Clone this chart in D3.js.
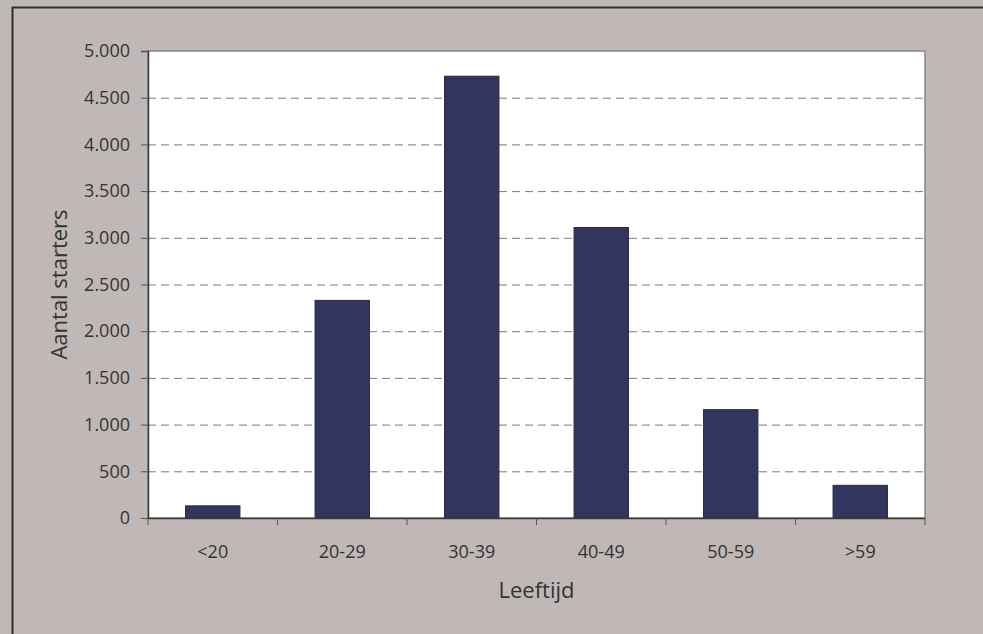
<!DOCTYPE html>
<html>
<head>
<meta charset="utf-8">
<script src="https://cdn.jsdelivr.net/npm/d3@7"></script>
<style>
  html, body { margin: 0; padding: 0; background: #c0b8b6; }
  svg { display: block; }
</style>
</head>
<body>
<div id="chart"></div>
<script>
const categories = ["<20", "20-29", "30-39", "40-49", "50-59", ">59"];
const starters = [130, 2330, 4730, 3110, 1160, 350];
const yTicks = [0, 500, 1000, 1500, 2000, 2500, 3000, 3500, 4000, 4500, 5000];

const width = 983;
const height = 634;
const margin = { top: 51, right: 58, bottom: 116, left: 148 };
const innerW = width - margin.left - margin.right;
const innerH = height - margin.top - margin.bottom;

const nl = d3.formatLocale({ decimal: ",", thousands: ".", grouping: [3], currency: ["", ""] });
const fmt = nl.format(",d");

const svg = d3
  .select("#chart")
  .append("svg")
  .attr("width", width)
  .attr("height", height);

// outer frame
svg
  .append("rect")
  .attr("x", 12.5)
  .attr("y", 7.5)
  .attr("width", width)
  .attr("height", height)
  .attr("fill", "#c0b8b6")
  .attr("stroke", "#2e2e2e")
  .attr("stroke-width", 2);

const g = svg
  .append("g")
  .attr("transform", `translate(${margin.left}, ${margin.top})`);

const x = d3.scaleBand().domain(categories).range([0, innerW]).paddingInner(0.58).paddingOuter(0.29);
const y = d3.scaleLinear().domain([0, 5000]).range([innerH, 0]);

g.append("rect")
  .attr("width", innerW)
  .attr("height", innerH)
  .attr("fill", "#ffffff")
  .attr("stroke", "#8c8482")
  .attr("stroke-width", 1.5);

// dashed gridlines
g.selectAll(".grid")
  .data(yTicks.filter((d) => d > 0 && d < 5000))
  .enter()
  .append("line")
  .attr("class", "grid")
  .attr("x1", 0)
  .attr("x2", innerW)
  .attr("y1", (d) => y(d) + 0.5)
  .attr("y2", (d) => y(d) + 0.5)
  .attr("stroke", "#7a7a7a")
  .attr("stroke-width", 1)
  .attr("stroke-dasharray", "8,5");

// bars
g.selectAll(".bar")
  .data(starters)
  .enter()
  .append("rect")
  .attr("class", "bar")
  .attr("x", (d, i) => x(categories[i]))
  .attr("y", (d) => y(d))
  .attr("width", x.bandwidth())
  .attr("height", (d) => innerH - y(d))
  .attr("fill", "#333561")
  .attr("stroke", "#2a2a3a")
  .attr("stroke-width", 1);

// y axis
const yAxis = g
  .append("g")
  .call(d3.axisLeft(y).tickValues(yTicks).tickFormat(fmt).tickSize(7).tickPadding(11));

// x axis with ticks at category boundaries
const step = innerW / categories.length;
const xAxis = g
  .append("g")
  .attr("transform", `translate(0, ${innerH})`)
  .call(d3.axisBottom(x).tickSize(0).tickPadding(27));

xAxis
  .selectAll(".bound")
  .data(d3.range(categories.length + 1))
  .enter()
  .append("line")
  .attr("class", "bound")
  .attr("x1", (i) => i * step)
  .attr("x2", (i) => i * step)
  .attr("y1", 0)
  .attr("y2", 7)
  .attr("stroke", "#555");

[yAxis, xAxis].forEach((ax) => {
  ax.select(".domain").attr("stroke", "#3a3a3a").attr("stroke-width", 1.5);
  ax.selectAll(".tick line").attr("stroke", "#555");
  ax.selectAll("text")
    .attr("fill", "#333")
    .style("font-family", "'Open Sans', sans-serif")
    .style("font-size", "18px");
});
yAxis.select(".domain").attr("d", `M-7,0.5H0.5V${innerH}`);
xAxis.select(".domain").attr("d", `M0,0V0.5H${innerW}`);

// axis titles
svg
  .append("text")
  .attr("x", margin.left + innerW / 2)
  .attr("y", 598)
  .attr("text-anchor", "middle")
  .attr("fill", "#333")
  .style("font-family", "'Open Sans', sans-serif")
  .style("font-size", "22px")
  .text("Leeftijd");

svg
  .append("text")
  .attr("transform", `translate(67, ${margin.top + innerH / 2}) rotate(-90)`)
  .attr("text-anchor", "middle")
  .attr("fill", "#333")
  .style("font-family", "'Open Sans', sans-serif")
  .style("font-size", "22px")
  .text("Aantal starters");
</script>
</body>
</html>
